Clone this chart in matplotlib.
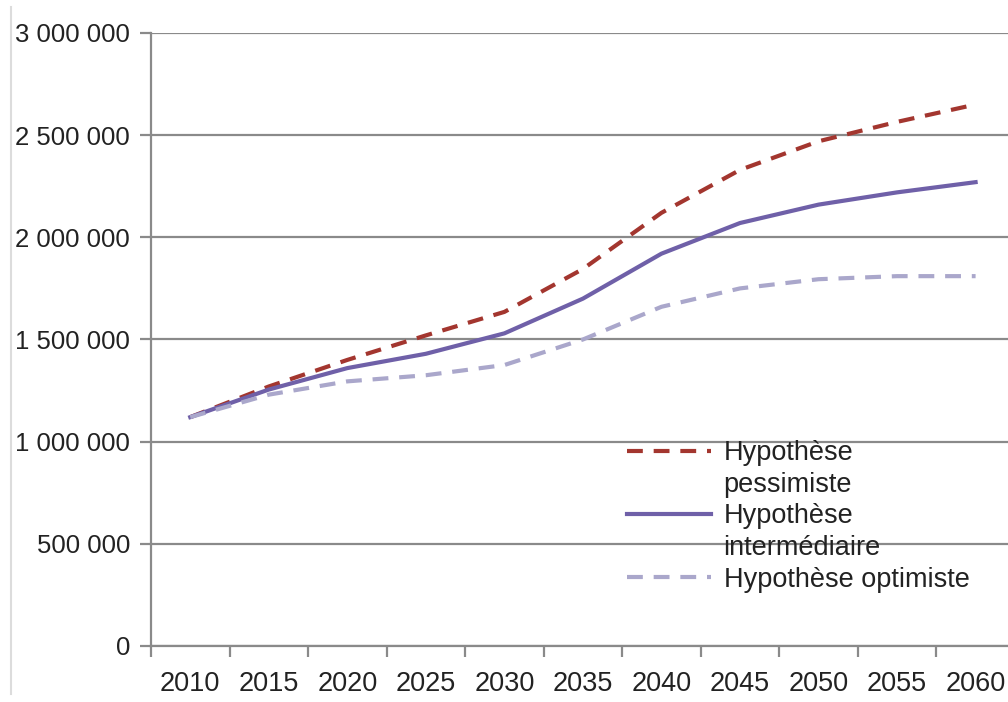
import matplotlib.pyplot as plt
from matplotlib.lines import Line2D
from matplotlib.ticker import FuncFormatter, MultipleLocator

# projections (category axis, 5-year steps)
years = ["2010", "2015", "2020", "2025", "2030", "2035", "2040", "2045", "2050", "2055", "2060"]
pessimiste = [1120000, 1270000, 1400000, 1520000, 1635000, 1845000, 2120000, 2330000, 2470000, 2565000, 2650000]
intermediaire = [1120000, 1255000, 1360000, 1430000, 1530000, 1700000, 1920000, 2070000, 2160000, 2220000, 2270000]
optimiste = [1120000, 1230000, 1295000, 1325000, 1375000, 1500000, 1660000, 1750000, 1795000, 1810000, 1810000]

# legend text, split on the line breaks of the original
labels = [("Hypothèse", "pessimiste"), ("Hypothèse", "intermédiaire"), ("Hypothèse optimiste",)]

plt.rcParams["font.family"] = ["Liberation Sans", "DejaVu Sans"]

fig = plt.figure(figsize=(10.08, 7.02), dpi=100)
ax = fig.add_axes([0.1498, 0.0798, 0.857, 0.8732])

x = range(len(years))
lw = 3.0
styles = [
    dict(color="#A3362F", lw=lw, dashes=(3.8, 2.6)),
    dict(color="#6F60A8", lw=lw),
    dict(color="#AAA7CB", lw=lw, dashes=(3.8, 2.6)),
]
for ys, st in zip([pessimiste, intermediaire, optimiste], styles):
    ax.plot(x, ys, **st)

ax.set_xlim(-0.5, len(years) - 0.5)
ax.set_ylim(0, 3000000)

grey = "#8a8a8a"
ax.yaxis.set_major_locator(MultipleLocator(500000))
ax.yaxis.set_major_formatter(FuncFormatter(lambda v, p: f"{int(v):,}".replace(",", " ")))
ax.grid(axis="y", color=grey, lw=1.6)
ax.set_axisbelow(True)

ax.set_xticks(list(x))
ax.set_xticklabels(years)
ax.set_xticks([i - 0.5 for i in range(len(years) + 1)], minor=True)
ax.tick_params(axis="x", which="major", length=0, pad=18, labelsize=19.5, labelcolor="#222222")
ax.tick_params(axis="x", which="minor", length=8, width=1.6, color=grey, direction="out")
ax.tick_params(axis="y", length=8, width=1.6, color=grey, pad=7, labelsize=18.5, labelcolor="#222222")

for s in ["top", "right"]:
    ax.spines[s].set_visible(False)
for s in ["left", "bottom"]:
    ax.spines[s].set_color(grey)
    ax.spines[s].set_linewidth(1.6)

# legend: the line sample sits beside the first line of each label
handles, texts = [], []
for lab, st in zip(labels, styles):
    handles.append(Line2D([], [], **st))
    texts.append(lab[0])
    for extra in lab[1:]:
        handles.append(Line2D([], [], color="none"))
        texts.append(extra)

leg = ax.legend(handles, texts, loc="upper left", bbox_to_anchor=(0.5515, 0.336), frameon=False,
                fontsize=19.5, handlelength=3.1, handletextpad=0.45,
                borderpad=0, borderaxespad=0, labelspacing=0.21)
for t in leg.get_texts():
    t.set_color("#222222")

# faint border of the original chart area
fig.add_artist(Line2D([0.011, 0.011], [0.012, 0.99], color="#dcdcdc", lw=1.5))

fig.savefig("out.png", dpi=100)
